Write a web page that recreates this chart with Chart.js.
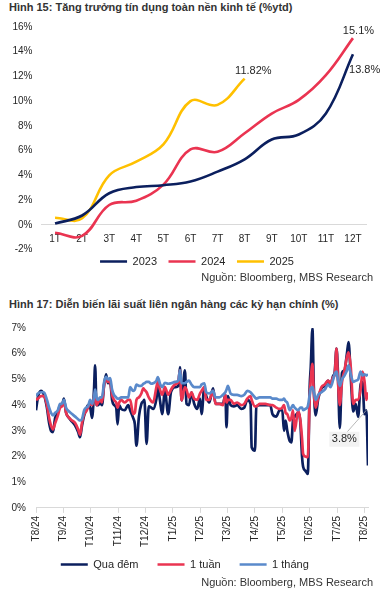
<!DOCTYPE html>
<html>
<head>
<meta charset="utf-8">
<script src="https://cdn.jsdelivr.net/npm/chart.js@4.4.1/dist/chart.umd.min.js"></script>
<style>
    html, body { margin: 0; padding: 0; background: #fff; }
    body { width: 383px; height: 590px; position: relative; overflow: hidden; font-family: "Liberation Sans", Arial, sans-serif; }
    .title { position: absolute; left: 9px; font-size: 11px; font-weight: bold; color: #333; line-height: 14px; white-space: nowrap; }
    .source { position: absolute; right: 10px; font-size: 11px; color: #333; line-height: 14px; white-space: nowrap; z-index: 2; }
    .box { position: absolute; left: 0; width: 383px; }
</style>
</head>
<body>
<div class="title" style="top:0px">Hình 15: Tăng trưởng tín dụng toàn nền kinh tế (%ytd)</div>
<div class="box" style="top:12px;height:270px"><canvas id="creditChart"></canvas></div>
<div class="source" style="top:270px">Nguồn: Bloomberg, MBS Research</div>

<div class="title" style="top:297px">Hình 17: Diễn biến lãi suất liên ngân hàng các kỳ hạn chính (%)</div>
<div class="box" style="top:312px;height:278px"><canvas id="rateChart"></canvas></div>
<div class="source" style="top:575px">Nguồn: Bloomberg, MBS Research</div>

<script>
// ---- Hình 15: credit growth (%ytd) ----
const months = ['1T', '2T', '3T', '4T', '5T', '6T', '7T', '8T', '9T', '10T', '11T', '12T'];
const credit2023 = [0.1, 0.75, 2.55, 3.05, 3.2, 3.5, 4.3, 5.3, 6.9, 7.3, 9.0, 13.8];
const credit2024 = [-0.65, -0.9, 1.6, 1.95, 3.25, 6.1, 5.9, 7.4, 9.0, 10.1, 12.1, 15.1];
const credit2025 = [0.57, 0.52, 4.0, 5.1, 6.5, 10.0, 9.7, 11.82];

// ---- Hình 17: interbank rates (%) ----
const monthLabels = ['T8/24', 'T9/24', 'T10/24', 'T11/24', 'T12/24', 'T1/25', 'T2/25',
    'T3/25', 'T4/25', 'T5/25', 'T6/25', 'T7/25', 'T8/25'];
// position in months since 1 Aug 2024
const ratePos = [0, 0.07, 0.18, 0.29, 0.40, 0.48, 0.55, 0.62, 0.70, 0.80,
    0.88, 0.95, 1.02, 1.10, 1.21, 1.32, 1.43, 1.54, 1.61, 1.68,
    1.76, 1.83, 1.90, 1.98, 2.05, 2.12, 2.16, 2.21, 2.27, 2.34,
    2.41, 2.49, 2.56, 2.63, 2.71, 2.78, 2.85, 2.93, 2.98, 3.04,
    3.11, 3.24, 3.37, 3.44, 3.55, 3.61, 3.67, 3.76, 3.85, 3.92,
    3.96, 4.04, 4.12, 4.21, 4.28, 4.40, 4.45, 4.53, 4.61, 4.71,
    4.83, 4.93, 5.08, 5.20, 5.26, 5.32, 5.44, 5.50, 5.59, 5.68,
    5.78, 5.89, 5.99, 6.05, 6.15, 6.22, 6.33, 6.47, 6.56, 6.70,
    6.83, 6.92, 6.96, 7.01, 7.11, 7.23, 7.35, 7.50, 7.61, 7.72,
    7.84, 7.88, 8.00, 8.05, 8.17, 8.38, 8.56, 8.64, 8.78, 8.90,
    9.00, 9.06, 9.12, 9.18, 9.27, 9.33, 9.39, 9.45, 9.58, 9.66,
    9.72, 9.76, 9.84, 9.93, 10.00, 10.04, 10.10, 10.15, 10.22, 10.31,
    10.43, 10.55, 10.67, 10.76, 10.86, 10.91, 10.98, 11.03, 11.10, 11.18,
    11.27, 11.36, 11.42, 11.50, 11.59, 11.68, 11.77, 11.86, 11.93, 12.00,
    12.07, 12.13];
const overnight = [3.8, 4.3, 4.55, 4.4, 3.9, 3.3, 3.0, 2.95, 3.5, 3.7,
    4.0, 4.0, 4.25, 3.7, 3.5, 3.35, 3.2, 2.95, 2.75, 3.2,
    3.6, 3.8, 4.0, 3.9, 3.5, 4.6, 5.55, 4.0, 4.0, 4.1,
    4.0, 4.8, 5.2, 4.85, 4.9, 4.2, 4.0, 3.9, 3.25, 4.0,
    3.85, 3.8, 4.0, 3.8, 3.5, 3.27, 2.42, 3.55, 4.05, 4.15,
    4.2, 2.49, 3.95, 3.9, 3.85, 4.25, 4.7, 4.18, 3.65, 4.55,
    3.65, 4.5, 4.7, 4.75, 5.48, 4.18, 5.35, 4.05, 4.0, 4.5,
    4.05, 3.85, 4.25, 3.65, 4.7, 4.35, 4.1, 4.65, 4.05, 4.05,
    4.05, 4.4, 3.14, 4.35, 4.0, 3.95, 4.0, 3.85, 3.9, 4.2,
    4.05, 2.36, 2.23, 3.95, 4.0, 4.0, 4.0, 3.65, 3.55, 3.8,
    3.8, 3.0, 3.4, 3.0, 2.6, 2.55, 3.4, 3.55, 3.7, 3.3,
    2.0, 1.6, 1.45, 1.32, 4.7, 5.5, 6.98, 4.7, 3.6, 4.25,
    4.65, 4.75, 4.95, 4.8, 5.15, 5.25, 6.2, 5.3, 3.1, 5.25,
    5.35, 6.0, 6.45, 5.1, 3.75, 4.05, 3.55, 4.8, 4.9, 3.65,
    3.8, 1.65];
const week1 = [4.2, 4.25, 4.35, 4.35, 4.0, 3.5, 3.2, 3.05, 3.3, 3.6,
    3.9, 3.95, 4.15, 3.7, 3.5, 3.4, 3.3, 3.05, 2.85, 3.3,
    3.65, 3.75, 3.9, 4.1, 4.0, 4.3, 4.5, 4.0, 4.1, 4.2,
    4.1, 4.8, 5.05, 4.9, 4.9, 4.4, 4.2, 4.1, 3.9, 4.1,
    4.2, 4.1, 4.2, 4.2, 3.65, 3.7, 4.2, 4.3, 4.45, 4.65,
    4.6, 4.5, 4.3, 4.15, 4.1, 4.7, 4.9, 4.6, 4.4, 4.7,
    4.4, 4.6, 4.8, 4.9, 5.35, 4.18, 4.7, 4.6, 4.3, 4.5,
    4.25, 4.2, 4.45, 4.55, 4.7, 4.2, 4.2, 4.55, 4.05, 4.05,
    4.0, 4.4, 4.1, 4.2, 4.2, 4.05, 4.1, 4.0, 4.05, 4.25,
    4.35, 4.2, 3.95, 3.95, 4.05, 4.05, 4.0, 4.0, 3.9, 3.85,
    3.9, 4.0, 3.7, 3.65, 3.4, 3.5, 3.8, 3.0, 3.8, 3.4,
    2.7, 2.1, 2.0, 1.97, 4.3, 5.0, 5.6, 4.45, 3.9, 4.3,
    4.7, 4.8, 4.95, 4.85, 5.1, 5.15, 6.2, 5.0, 4.0, 4.9,
    5.35, 5.87, 6.05, 5.48, 4.05, 4.2, 4.2, 4.6, 5.3, 4.95,
    4.2, 4.5];
const month1 = [4.35, 4.45, 4.5, 4.5, 4.2, 3.9, 3.7, 3.6, 3.7, 3.8,
    4.05, 4.05, 4.2, 3.9, 3.75, 3.65, 3.55, 3.45, 3.4, 3.45,
    3.8, 3.9, 3.95, 4.2, 4.05, 4.3, 4.6, 4.3, 4.2, 4.3,
    4.3, 4.9, 5.1, 5.0, 5.05, 4.6, 4.4, 4.3, 4.25, 4.25,
    4.3, 4.3, 4.3, 4.7, 4.55, 4.6, 4.8, 4.75, 4.75, 4.83,
    4.85, 4.9, 4.9, 4.83, 4.85, 4.95, 5.09, 4.83, 4.7, 4.87,
    4.83, 4.85, 4.9, 4.95, 5.35, 4.85, 4.85, 4.9, 4.95, 4.8,
    4.7, 4.7, 4.7, 4.8, 4.85, 4.5, 4.45, 4.55, 4.3, 4.3,
    4.4, 4.5, 4.6, 4.75, 4.45, 4.4, 4.4, 4.35, 4.4, 4.55,
    4.5, 4.45, 4.3, 4.25, 4.3, 4.3, 4.3, 4.25, 4.25, 4.2,
    4.2, 4.25, 4.15, 4.1, 3.8, 3.9, 4.0, 3.9, 3.8, 3.9,
    3.9, 3.8, 3.85, 3.95, 4.4, 4.65, 4.7, 4.5, 4.2, 4.4,
    4.5, 4.6, 4.8, 4.7, 5.0, 5.2, 5.3, 5.0, 4.75, 5.0,
    5.15, 5.35, 5.55, 5.2, 4.9, 4.95, 5.0, 5.3, 5.15, 5.2,
    5.15, 5.2];

const NAVY = '#0B1F5E';
const RED = '#EA3451';
const YELLOW = '#FFC000';
const BLUE = '#5A8ACB';
const AXIS_GRAY = '#D9D9D9';
const FONT = '"Liberation Sans", Arial, sans-serif';

Chart.defaults.font.family = FONT;
Chart.defaults.font.size = 10;
Chart.defaults.color = '#262626';
Chart.defaults.animation = false;

// draws value labels next to chosen points (optionally as a callout with a box)
const pointLabels = {
    id: 'pointLabels',
    afterDatasetsDraw(chart, args, opts) {
        const ctx = chart.ctx;
        (opts.items || []).forEach(item => {
            const el = chart.getDatasetMeta(item.dataset).data[item.index];
            const value = chart.data.datasets[item.dataset].data[item.index];
            const v = typeof value === 'object' ? value.y : value;
            const text = v + '%';
            const x = el.x + item.dx;
            const y = el.y + item.dy;
            ctx.save();
            ctx.font = '11px ' + FONT;
            ctx.textAlign = 'center';
            ctx.textBaseline = 'middle';
            if (item.box) {
                const w = ctx.measureText(text).width + 5;
                ctx.strokeStyle = '#A6A6A6';
                ctx.lineWidth = 0.8;
                ctx.beginPath();
                ctx.moveTo(el.x, el.y);
                ctx.lineTo(x + 3, y - 7.5);
                ctx.stroke();
                ctx.fillStyle = '#F2F2F2';
                ctx.fillRect(x - w / 2, y - 7.5, w, 15);
            }
            ctx.fillStyle = '#262626';
            ctx.fillText(text, x, y);
            ctx.restore();
        });
    }
};

// moves the legend a few pixels after layout
const legendNudge = {
    id: 'legendNudge',
    afterLayout(chart, args, opts) {
        const lg = chart.legend;
        if (!lg) return;
        const dx = opts.x || 0;
        const dy = opts.y || 0;
        lg.left += dx;
        lg.right += dx;
        lg.top += dy;
        lg.bottom += dy;
    }
};

function lineDataset(label, data, color, width) {
    return {
        label: label,
        data: data,
        borderColor: color,
        backgroundColor: color,
        borderWidth: width,
        pointRadius: 0,
        fill: false
    };
}

// ---------- chart 1 ----------
new Chart(document.getElementById('creditChart'), {
    type: 'line',
    data: {
        labels: months,
        datasets: [
            lineDataset('2023', credit2023, NAVY, 2.6),
            lineDataset('2024', credit2024, RED, 2.6),
            lineDataset('2025', credit2025, YELLOW, 2.6)
        ]
    },
    options: {
        responsive: true,
        maintainAspectRatio: false,
        elements: { line: { tension: 0.4 } },
        layout: { padding: { top: 12, left: 3.5, right: 16.5, bottom: 0 } },
        scales: {
            x: {
                position: { y: 0 },
                offset: true,
                grid: { display: false, drawTicks: false },
                border: { color: AXIS_GRAY, width: 1 },
                ticks: { padding: 8, font: { size: 10 } }
            },
            y: {
                min: -2,
                max: 16,
                grid: { display: false, drawTicks: false },
                border: { display: false },
                ticks: { stepSize: 2, padding: 9, callback: v => v + '%' }
            }
        },
        plugins: {
            legend: {
                position: 'bottom',
                labels: {
                    usePointStyle: true,
                    pointStyle: 'line',
                    pointStyleWidth: 27,
                    padding: 11.5,
                    font: { size: 11 }
                }
            },
            legendNudge: { x: 12, y: -5 },
            tooltip: { enabled: false },
            pointLabels: {
                items: [
                    { dataset: 1, index: 11, dx: 5.5, dy: -7.5 },
                    { dataset: 0, index: 11, dx: 11.7, dy: 15.6 },
                    { dataset: 2, index: 7, dx: 8.7, dy: -7.8 }
                ]
            }
        }
    },
    plugins: [pointLabels, legendNudge]
});

// ---------- chart 2 ----------
function toPoints(values) {
    return values.map((v, i) => ({ x: ratePos[i], y: v }));
}

const rateSets = [
    lineDataset('Qua đêm', toPoints(overnight), NAVY, 2.7),
    lineDataset('1 tuần', toPoints(week1), RED, 2.7),
    lineDataset('1 tháng', toPoints(month1), BLUE, 2.7)
];
rateSets[0].order = 3;
rateSets[1].order = 2;
rateSets[2].order = 1;

new Chart(document.getElementById('rateChart'), {
    type: 'line',
    data: { datasets: rateSets },
    options: {
        responsive: true,
        maintainAspectRatio: false,
        elements: { line: { tension: 0.3, cubicInterpolationMode: 'monotone' } },
        layout: { padding: { top: 11, left: 1.6, right: 15, bottom: 0 } },
        scales: {
            x: {
                type: 'linear',
                min: 0,
                max: 12.13,
                afterBuildTicks: s => { s.ticks = monthLabels.map((_, i) => ({ value: i })); },
                grid: { display: true, drawOnChartArea: false, drawTicks: true, tickLength: 5, color: AXIS_GRAY },
                border: { color: AXIS_GRAY, width: 1 },
                ticks: {
                    autoSkip: false,
                    maxRotation: 90,
                    minRotation: 90,
                    padding: 3,
                    font: { size: 10 },
                    callback: v => monthLabels[v]
                }
            },
            y: {
                min: 0,
                max: 7,
                afterFit: s => { s.width = 34.4; },
                grid: { display: false, drawTicks: false },
                border: { display: false },
                ticks: { stepSize: 1, padding: 10, callback: v => v + '%' }
            }
        },
        plugins: {
            legend: {
                position: 'bottom',
                labels: {
                    usePointStyle: true,
                    pointStyle: 'line',
                    pointStyleWidth: 27,
                    padding: 19,
                    font: { size: 11 },
                    sort: (a, b) => a.datasetIndex - b.datasetIndex
                }
            },
            legendNudge: { x: 0, y: -10 },
            tooltip: { enabled: false },
            pointLabels: {
                items: [
                    { dataset: 0, index: 140, dx: -22, dy: 29, box: true }
                ]
            }
        }
    },
    plugins: [pointLabels, legendNudge]
});
</script>
</body>
</html>
